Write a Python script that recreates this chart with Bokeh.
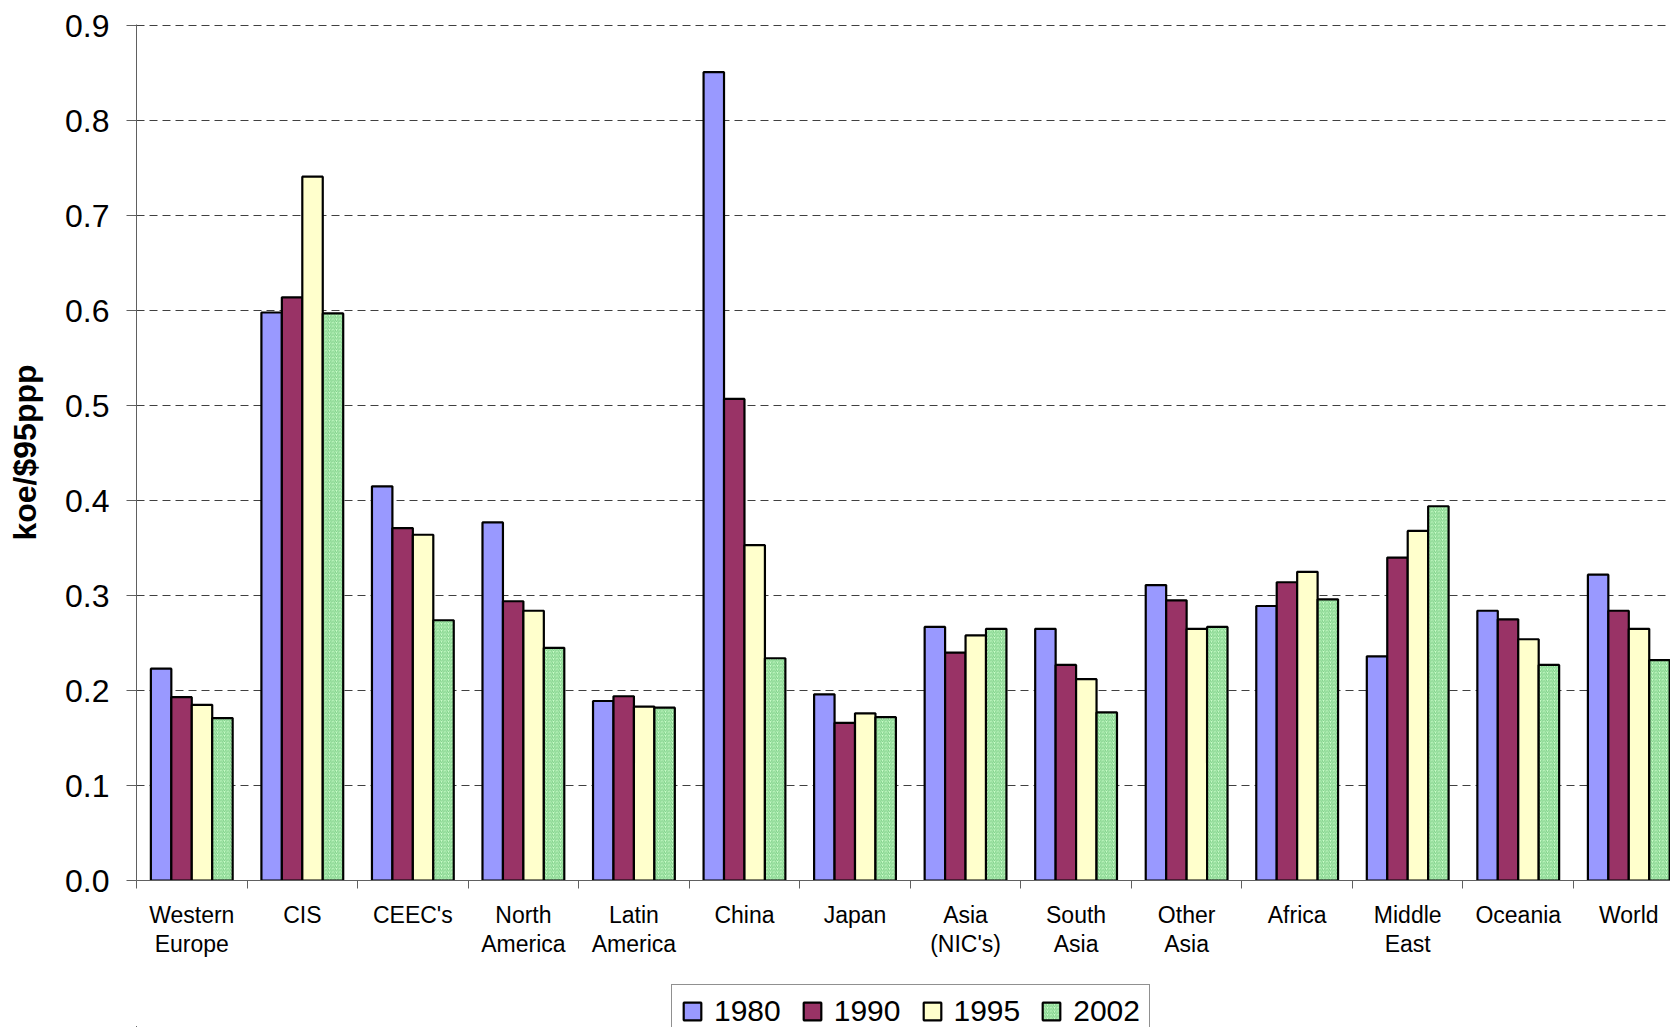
from bokeh.plotting import figure
from bokeh.layouts import column
from bokeh.models import Range1d, FixedTicker, Legend, LegendItem, ColumnDataSource
from bokeh.embed import file_html
from bokeh.resources import INLINE

categories = ["Western\nEurope", "CIS", "CEEC's", "North\nAmerica", "Latin\nAmerica", "China",
              "Japan", "Asia\n(NIC's)", "South\nAsia", "Other\nAsia", "Africa", "Middle\nEast",
              "Oceania", "World"]
years = ["1980", "1990", "1995", "2002"]
v1980 = [0.223, 0.598, 0.415, 0.377, 0.189, 0.851, 0.196, 0.267, 0.265, 0.311, 0.289, 0.236, 0.284, 0.322]
v1990 = [0.193, 0.614, 0.371, 0.294, 0.194, 0.507, 0.166, 0.240, 0.227, 0.295, 0.314, 0.340, 0.275, 0.284]
v1995 = [0.185, 0.741, 0.364, 0.284, 0.183, 0.353, 0.176, 0.258, 0.212, 0.265, 0.325, 0.368, 0.254, 0.265]
v2002 = [0.171, 0.597, 0.274, 0.245, 0.182, 0.234, 0.172, 0.265, 0.177, 0.267, 0.296, 0.394, 0.227, 0.232]
y_ticks = [0.0, 0.1, 0.2, 0.3, 0.4, 0.5, 0.6, 0.7, 0.8, 0.9]

FONT = "Liberation Sans"
W = 1670
H1 = 980
H2 = 47
LEFT = 136
frame_w = W - LEFT
p = figure(width=W, height=H1, output_backend="svg", toolbar_location=None,
           x_range=Range1d(0, frame_w / 110.54), y_range=Range1d(0, 0.9012),
           min_border_left=LEFT, min_border_right=0, min_border_top=24, min_border_bottom=H1 - 880)
p.outline_line_color = None
p.background_fill_color = "white"

bw = 0.185
series = [v1980, v1990, v1995, v2002]
colors = ["#9999FF", "#993366", "#FFFFCC", "#CCFFCC"]
hatch = dict(hatch_pattern="/", hatch_color="#44AA55", hatch_scale=3.5, hatch_weight=1, hatch_alpha=0.6)

for k, vals in enumerate(series):
    xs = [i + 0.5 + (k - 1.5) * bw for i in range(len(categories))]
    src = ColumnDataSource(dict(x=xs, top=vals))
    kw = hatch if k == 3 else {}
    p.vbar(x="x", top="top", width=bw, bottom=0, source=src, fill_color=colors[k],
           line_color="black", line_width=2.2, **kw)

# x axis
xa = p.xaxis[0]
xa.ticker = FixedTicker(ticks=[i + 0.5 for i in range(len(categories))],
                        minor_ticks=list(range(len(categories))))
xa.major_label_overrides = {i + 0.5: c for i, c in enumerate(categories)}
xa.major_tick_out = 0
xa.major_tick_in = 0
xa.minor_tick_out = 8
xa.minor_tick_in = 0
xa.minor_tick_line_color = "#606060"
xa.axis_line_color = "#606060"
xa.major_label_text_font = FONT
xa.major_label_text_font_size = "23px"
xa.major_label_text_color = "black"
xa.major_label_text_line_height = 1.15
xa.major_label_standoff = 13
p.xgrid.grid_line_color = None

# y axis
ya = p.yaxis[0]
ya.ticker = FixedTicker(ticks=y_ticks, minor_ticks=[])
ya.major_label_overrides = {t: f"{t:.1f}" for t in y_ticks}
ya.major_tick_out = 10
ya.major_tick_in = 0
ya.major_tick_line_color = "#606060"
ya.axis_line_color = "#606060"
ya.major_label_text_font = FONT
ya.major_label_text_font_size = "32px"
ya.major_label_text_color = "black"
ya.major_label_standoff = 17
ya.axis_label = "koe/$95ppp"
ya.axis_label_text_font = FONT
ya.axis_label_text_font_size = "32px"
ya.axis_label_text_font_style = "bold"
ya.axis_label_text_color = "black"
ya.axis_label_standoff = 19
p.ygrid.grid_line_color = "#404040"
p.ygrid.grid_line_dash = "8 5"
p.ygrid.grid_line_width = 1

# legend strip below the chart (the reference's legend box is cut by the bottom edge)
p2 = figure(width=W, height=H2, output_backend="svg", toolbar_location=None,
            x_range=Range1d(0, 10), y_range=Range1d(0, 10),
            x_axis_location=None, y_axis_location=None,
            min_border_left=0, min_border_right=0, min_border_top=0, min_border_bottom=0)
p2.outline_line_color = None
p2.grid.visible = False
leg_renderers = []
for k in range(4):
    kw = hatch if k == 3 else {}
    # a single bar far outside the view per series, only used to draw the legend swatch
    r = p2.vbar(x=[-100], bottom=[-200], top=[-199], width=1, fill_color=colors[k],
                line_color="black", line_width=2.2, **kw)
    leg_renderers.append(r)

legend = Legend(items=[LegendItem(label=y, renderers=[r]) for y, r in zip(years, leg_renderers)],
                orientation="horizontal", location=(671 - LEFT, -11))
legend.label_text_font = FONT
legend.label_text_font_size = "30px"
legend.label_text_color = "black"
legend.glyph_width = 22
legend.glyph_height = 22
legend.label_standoff = 11
legend.spacing = 20
legend.padding = 9
legend.margin = 0
legend.border_line_color = "#222222"
legend.border_line_width = 1.3
legend.background_fill_color = "white"
p2.add_layout(legend, "center")

layout = column(p, p2, spacing=0)
open("out.html", "w").write(file_html(layout, INLINE))
